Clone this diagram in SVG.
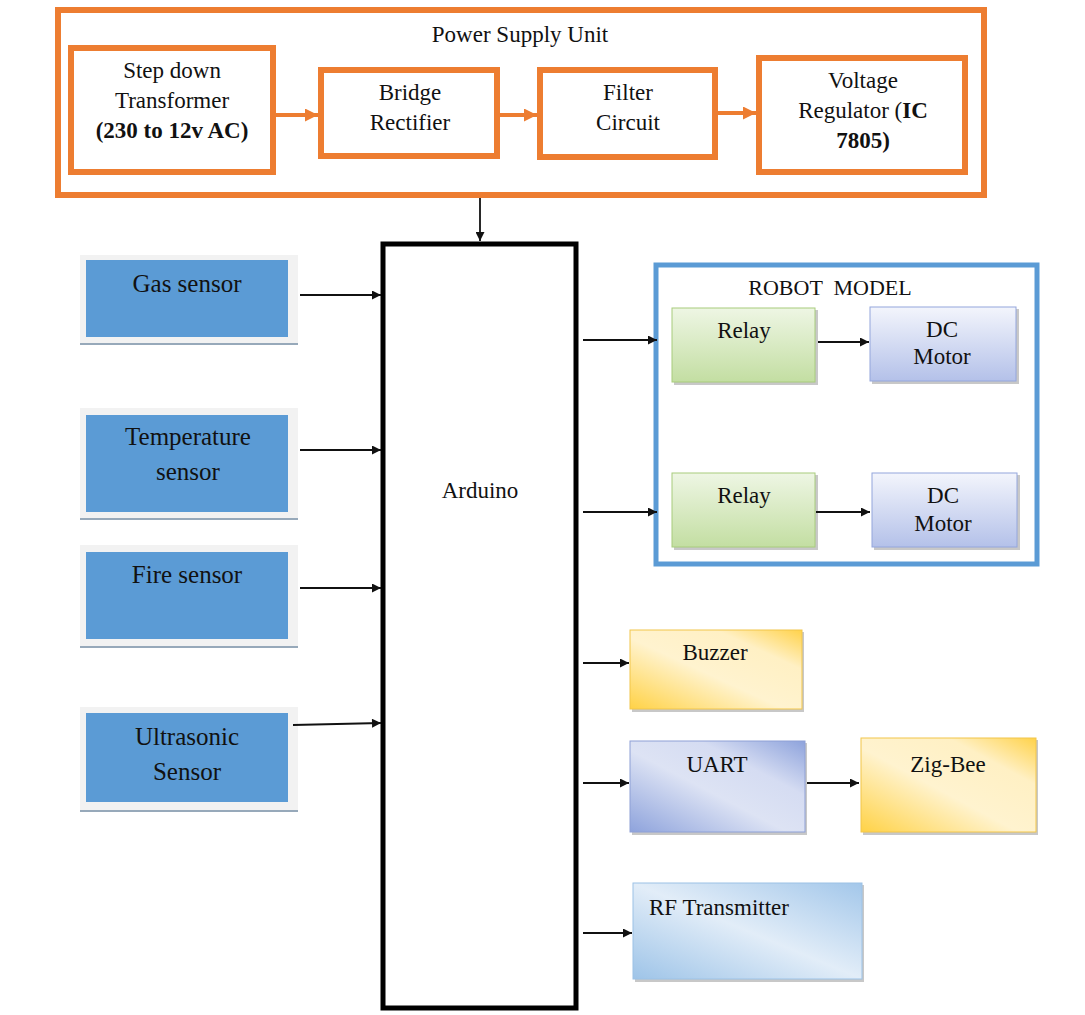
<svg xmlns="http://www.w3.org/2000/svg" width="1085" height="1015" viewBox="0 0 1085 1015">
<style>
text{font-family:"Liberation Serif","Times New Roman",serif;font-size:23px;fill:#111;text-anchor:middle}
.b{font-weight:bold}
.or{fill:#fff;stroke:#ED7D31;stroke-width:6}
.orw{stroke:#ED7D31;stroke-width:4;fill:none}
.ln{stroke:#111;stroke-width:1.8;fill:none}
.frame{fill:#f2f2f2}
.blue{fill:#5B9BD5}
.shadow{fill:#c8c8c8}
</style>
<defs>
<marker id="ah" viewBox="0 0 10 10" refX="10" refY="5" markerWidth="10" markerHeight="9" markerUnits="userSpaceOnUse" orient="auto"><path d="M0,0 L10,5 L0,10 z" fill="#111"/></marker>
<marker id="oh" viewBox="0 0 10 10" refX="10" refY="5" markerWidth="13" markerHeight="13" markerUnits="userSpaceOnUse" orient="auto"><path d="M0,0 L10,5 L0,10 z" fill="#ED7D31"/></marker>
<linearGradient id="gGreen" x1="0" y1="0" x2="0" y2="1"><stop offset="0" stop-color="#eef6e4"/><stop offset="1" stop-color="#c3dea2"/></linearGradient>
<linearGradient id="gLav" x1="0" y1="0" x2="0" y2="1"><stop offset="0" stop-color="#f3f5fc"/><stop offset="1" stop-color="#b4c1e9"/></linearGradient>
<linearGradient id="gYel" x1="0" y1="1" x2="1" y2="0"><stop offset="0" stop-color="#ffd246"/><stop offset="0.45" stop-color="#fff3cf"/><stop offset="0.75" stop-color="#fff0c4"/><stop offset="1" stop-color="#ffd24a"/></linearGradient>
<linearGradient id="gUart" x1="0" y1="1" x2="1" y2="0"><stop offset="0" stop-color="#8ea3dc"/><stop offset="0.45" stop-color="#dde3f4"/><stop offset="0.7" stop-color="#d5dcf2"/><stop offset="1" stop-color="#8ea3dc"/></linearGradient>
<linearGradient id="gRf" x1="0" y1="1" x2="1" y2="0"><stop offset="0" stop-color="#9ec4e8"/><stop offset="0.5" stop-color="#e2edf8"/><stop offset="1" stop-color="#a3c7ea"/></linearGradient>
</defs>

<g id="power-supply">
<rect class="or" x="58" y="10" width="926" height="185"/>
<text x="520" y="42">Power Supply Unit</text>
</g>
<g id="step-down">
<rect class="or" x="71" y="48" width="202" height="124"/>
<text x="172" y="78">Step down</text>
<text x="172" y="108">Transformer</text>
<text x="172" y="138" class="b">(230 to 12v AC)</text>
</g>
<g id="bridge">
<rect class="or" x="321" y="70" width="176" height="86"/>
<text x="410" y="100">Bridge</text>
<text x="410" y="130">Rectifier</text>
</g>
<g id="filter">
<rect class="or" x="540" y="70" width="175" height="87"/>
<text x="628" y="100">Filter</text>
<text x="628" y="130">Circuit</text>
</g>
<g id="regulator">
<rect class="or" x="759" y="58" width="206" height="114"/>
<text x="863" y="88">Voltage</text>
<text x="863" y="118">Regulator (<tspan class="b">IC</tspan></text>
<text x="863" y="148" class="b">7805)</text>
</g>

<g id="arduino">
<rect x="383" y="244" width="193" height="764" fill="#fff" stroke="#000" stroke-width="5"/>
<text x="480" y="498">Arduino</text>
</g>

<g id="gas-sensor">
<rect class="frame" x="80" y="255" width="218" height="90"/>
<rect x="80" y="343" width="218" height="2" fill="#97a9ba"/>
<rect class="blue" x="86" y="260" width="202" height="77"/>
<text x="187" y="292" style="font-size:25px">Gas sensor</text>
</g>
<g id="temp-sensor">
<rect class="frame" x="80" y="408" width="218" height="112"/>
<rect x="80" y="518" width="218" height="2" fill="#97a9ba"/>
<rect class="blue" x="86" y="415" width="202" height="97"/>
<text x="188" y="445" style="font-size:25px">Temperature</text>
<text x="188" y="480" style="font-size:25px">sensor</text>
</g>
<g id="fire-sensor">
<rect class="frame" x="80" y="545" width="218" height="103"/>
<rect x="80" y="646" width="218" height="2" fill="#97a9ba"/>
<rect class="blue" x="86" y="552" width="202" height="87"/>
<text x="187" y="583" style="font-size:25px">Fire sensor</text>
</g>
<g id="ultrasonic-sensor">
<rect class="frame" x="80" y="707" width="218" height="105"/>
<rect x="80" y="810" width="218" height="2" fill="#97a9ba"/>
<rect class="blue" x="86" y="713" width="202" height="89"/>
<text x="187" y="745" style="font-size:25px">Ultrasonic</text>
<text x="187" y="780" style="font-size:25px">Sensor</text>
</g>

<g id="robot-model">
<rect x="656" y="265" width="381" height="299" fill="#fff" stroke="#5B9BD5" stroke-width="5"/>
<text x="830" y="295" style="font-size:22px" xml:space="preserve">ROBOT  MODEL</text>
</g>
<g id="relay1">
<rect class="shadow" x="674" y="310" width="144" height="75"/>
<rect x="672" y="308" width="143" height="74" fill="url(#gGreen)" stroke="#a8cc7c" stroke-width="1"/>
<text x="744" y="338">Relay</text>
</g>
<g id="dcmotor1">
<rect class="shadow" x="872" y="309" width="147" height="75"/>
<rect x="870" y="307" width="146" height="74" fill="url(#gLav)" stroke="#94a6dc" stroke-width="1"/>
<text x="942" y="337">DC</text>
<text x="942" y="364">Motor</text>
</g>
<g id="relay2">
<rect class="shadow" x="674" y="475" width="144" height="75"/>
<rect x="672" y="473" width="143" height="74" fill="url(#gGreen)" stroke="#a8cc7c" stroke-width="1"/>
<text x="744" y="503">Relay</text>
</g>
<g id="dcmotor2">
<rect class="shadow" x="874" y="475" width="146" height="75"/>
<rect x="872" y="473" width="145" height="74" fill="url(#gLav)" stroke="#94a6dc" stroke-width="1"/>
<text x="943" y="503">DC</text>
<text x="943" y="531">Motor</text>
</g>

<g id="buzzer">
<rect class="shadow" x="632" y="632" width="172" height="80"/>
<rect x="630" y="630" width="172" height="79" fill="url(#gYel)" stroke="#f2c64a" stroke-width="1"/>
<text x="715" y="660">Buzzer</text>
</g>
<g id="uart">
<rect class="shadow" x="632" y="743" width="175" height="92"/>
<rect x="630" y="741" width="175" height="91" fill="url(#gUart)" stroke="#8ea0d6" stroke-width="1"/>
<text x="717" y="772">UART</text>
</g>
<g id="zigbee">
<rect class="shadow" x="863" y="740" width="175" height="95"/>
<rect x="861" y="738" width="175" height="94" fill="url(#gYel)" stroke="#f2c64a" stroke-width="1"/>
<text x="948" y="772">Zig-Bee</text>
</g>
<g id="rf-transmitter">
<rect class="shadow" x="635" y="885" width="229" height="97"/>
<rect x="633" y="883" width="229" height="96" fill="url(#gRf)" stroke="#9cc2e6" stroke-width="1"/>
<text x="649" y="915" style="text-anchor:start">RF Transmitter</text>
</g>

<g id="connectors">
<line class="orw" x1="276" y1="115" x2="318" y2="115" marker-end="url(#oh)"/>
<line class="orw" x1="500" y1="115" x2="537" y2="115" marker-end="url(#oh)"/>
<line class="orw" x1="718" y1="113" x2="756" y2="113" marker-end="url(#oh)"/>
<line class="ln" x1="480" y1="198" x2="480" y2="241" marker-end="url(#ah)"/>
<line class="ln" x1="300" y1="295" x2="381" y2="295" marker-end="url(#ah)"/>
<line class="ln" x1="300" y1="450" x2="381" y2="450" marker-end="url(#ah)"/>
<line class="ln" x1="300" y1="588" x2="381" y2="588" marker-end="url(#ah)"/>
<line class="ln" x1="293" y1="725" x2="381" y2="723" marker-end="url(#ah)"/>
<line class="ln" x1="583" y1="340" x2="657" y2="340" marker-end="url(#ah)"/>
<line class="ln" x1="818" y1="342" x2="869" y2="342" marker-end="url(#ah)"/>
<line class="ln" x1="583" y1="512" x2="657" y2="512" marker-end="url(#ah)"/>
<line class="ln" x1="816" y1="512" x2="870" y2="512" marker-end="url(#ah)"/>
<line class="ln" x1="583" y1="663" x2="629" y2="663" marker-end="url(#ah)"/>
<line class="ln" x1="583" y1="783" x2="629" y2="783" marker-end="url(#ah)"/>
<line class="ln" x1="807" y1="783" x2="859" y2="783" marker-end="url(#ah)"/>
<line class="ln" x1="583" y1="933" x2="632" y2="933" marker-end="url(#ah)"/>
</g>
</svg>
